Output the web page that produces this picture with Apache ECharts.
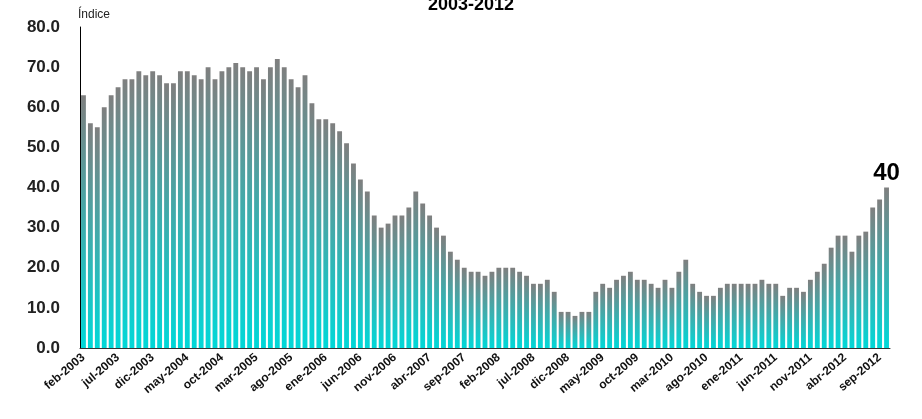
<!DOCTYPE html>
<html>
<head>
    <meta charset="UTF-8">
    <title></title>
    <style type="text/css">
        body{margin:0;background:#fff;}
    </style>
</head>
<body>
<div id='mychart' style="width: 922px;height:419px;"></div>
<script src='https://cdn.jsdelivr.net/npm/echarts@6/dist/echarts.min.js'></script>
<script>
    var meses = ['ene', 'feb', 'mar', 'abr', 'may', 'jun', 'jul', 'ago', 'sep', 'oct', 'nov', 'dic'];
    var valores = [
        63, 56, 55, 60, 63, 65, 67, 67, 69, 68, 69,
        68, 66, 66, 69, 69, 68, 67, 70, 67, 69, 70, 71,
        70, 69, 70, 67, 70, 72, 70, 67, 65, 68, 61, 57,
        57, 56, 54, 51, 46, 42, 39, 33, 30, 31, 33, 33,
        35, 39, 36, 33, 30, 28, 24, 22, 20, 19, 19, 18,
        19, 20, 20, 20, 19, 18, 16, 16, 17, 14, 9, 9,
        8, 9, 9, 14, 16, 15, 17, 18, 19, 17, 17, 16,
        15, 17, 15, 19, 22, 16, 14, 13, 13, 15, 16,
        16, 16, 16, 16, 17, 16, 16, 13, 15, 15, 14, 17,
        19, 21, 25, 28, 28, 24, 28, 29, 35, 37, 40
    ];
    var categorias = [];
    for (var i = 0; i < valores.length; i++) {
        var m = i + 1; // feb-2003 es el primero
        categorias.push(meses[m % 12] + '-' + (2003 + Math.floor(m / 12)));
    }
    var ultimo = valores.length - 1;

    var mychart = echarts.init(document.getElementById('mychart'));
    mychart.setOption({
        backgroundColor: '#fff',
        animation: false,
        title: {
            text: '2003-2012', left: 466, top: -9, textAlign: 'center',
            textStyle: {fontFamily: 'Liberation Sans', fontSize: 18, fontWeight: 'bold', color: '#000'}
        },
        grid: {left: 80, right: 32, top: 27, bottom: 71},
        xAxis: {
            type: 'category',
            data: categorias,
            axisTick: {show: false},
            axisLine: {lineStyle: {color: '#333'}},
            axisLabel: {
                interval: 4, rotate: 40, color: '#111', fontWeight: 'bold',
                fontFamily: 'Liberation Sans', fontSize: 12, margin: 8
            }
        },
        yAxis: {
            type: 'value', min: 0, max: 80, interval: 10,
            name: 'Índice', nameLocation: 'end', nameGap: 6,
            nameTextStyle: {align: 'left', color: '#222', fontFamily: 'Liberation Sans', fontSize: 12, padding: [0, 0, 0, -2]},
            splitLine: {show: false},
            axisLine: {show: true, lineStyle: {color: '#000'}},
            axisLabel: {
                formatter: function (v) { return v.toFixed(1); },
                color: '#222', fontFamily: 'Liberation Sans', fontSize: 17, fontWeight: 'bold', margin: 20
            }
        },
        series: [{
            type: 'bar',
            barCategoryGap: '30%',
            data: valores.map(function (v, i) {
                return i === ultimo ? {value: v, label: {show: true}} : v;
            }),
            label: {
                show: false, position: 'top', distance: 2,
                formatter: '{c}', color: '#000', fontWeight: 'bold',
                fontFamily: 'Liberation Sans', fontSize: 24
            },
            itemStyle: {
                color: new echarts.graphic.LinearGradient(0, 0, 0, 1, [
                    {offset: 0, color: '#7f7f7f'},
                    {offset: 1, color: '#00d8d8'}
                ])
            }
        }]
    });
</script>
</body>
</html>
